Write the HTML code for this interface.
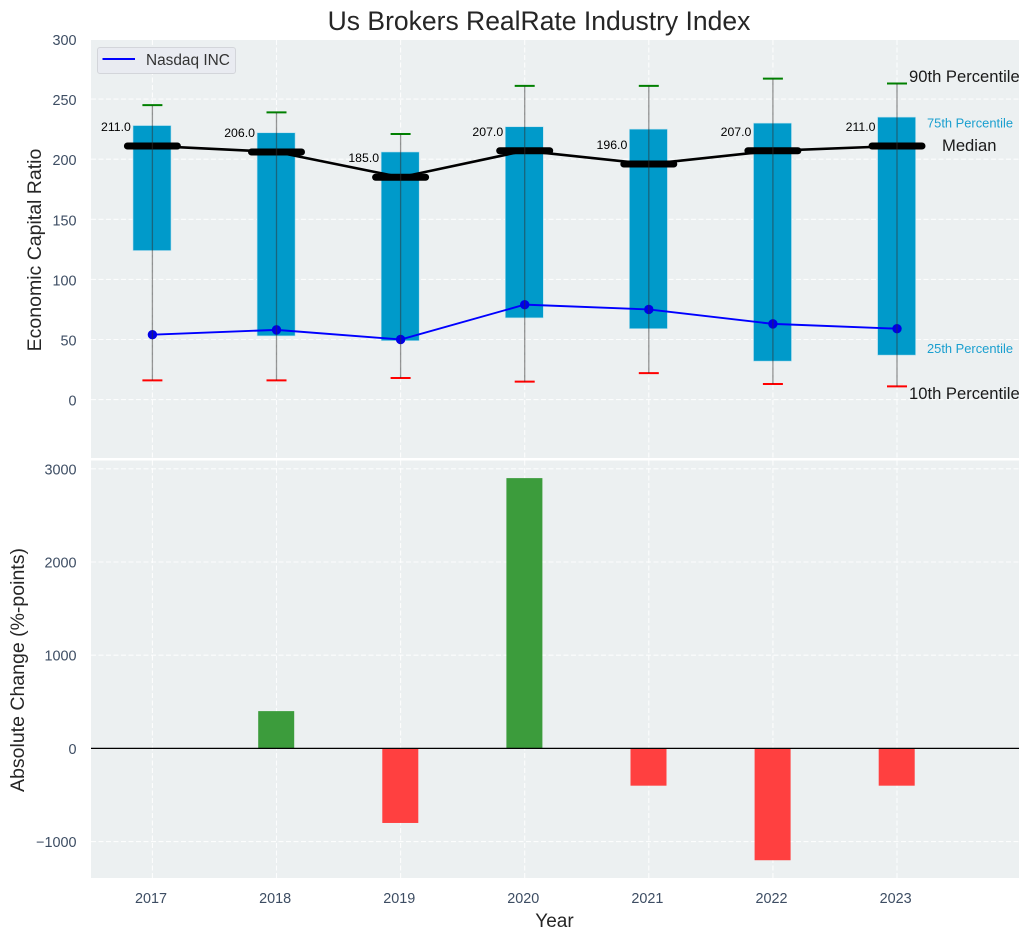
<!DOCTYPE html>
<html>
<head>
<meta charset="utf-8">
<style>
html,body{margin:0;padding:0;background:#fff;}
svg{display:block;}
text{font-family:"Liberation Sans",Arial,sans-serif;}
</style>
</head>
<body>
<svg id="chart" xmlns="http://www.w3.org/2000/svg" width="1030" height="940" viewBox="0 0 1030 940"></svg>
<script>
const years = [2017, 2018, 2019, 2020, 2021, 2022, 2023];
const p90 = [245, 239, 221, 261, 261, 267, 263];
const p75 = [228, 222, 206, 227, 225, 230, 235];
const median = [211, 206, 185, 207, 196, 207, 211];
const p25 = [124, 53, 49, 68, 59, 32, 37];
const p10 = [16, 16, 18, 15, 22, 13, 11];
const nasdaq = [54, 58, 50, 79, 75, 63, 59];
const changes = [null, 400, -800, 2900, -400, -1200, -400];
const topTicks = [0, 50, 100, 150, 200, 250, 300];
const bottomTicks = [-1000, 0, 1000, 2000, 3000];

const svg = document.getElementById('chart');
const NS = 'http://www.w3.org/2000/svg';
function mk(tag, attrs, name, text) {
  const el = document.createElementNS(NS, tag);
  for (const k in attrs) el.setAttribute(k, attrs[k]);
  
  
  if (text !== undefined) el.textContent = text;
  svg.appendChild(el);
  return el;
}
const L = 91, R = 1019;
const x = v => 152.4 + (v - 2017) * 124.1;
const yTop = v => 399.6 - v * 1.202;
const yBot = v => 748.4 - v * 0.0932;
const tickColor = '#3d4d63';
const gridColor = 'rgba(255,255,255,0.85)';
const bw = 38;

mk('text', {x: 539, y: 30, 'text-anchor': 'middle', 'font-size': 26.5, fill: '#262626'}, 'chart-title', 'Us Brokers RealRate Industry Index');

mk('rect', {x: L, y: 40, width: R - L, height: 418, fill: '#ecf0f1'}, 'top-panel-background');
mk('rect', {x: L, y: 460.5, width: R - L, height: 417.5, fill: '#ecf0f1'}, 'bottom-panel-background');

topTicks.forEach(t => {
  if (yTop(t) > 40) {
    mk('line', {x1: L, x2: R, y1: yTop(t), y2: yTop(t), stroke: gridColor, 'stroke-width': 1.1, 'stroke-dasharray': '5 2.5'}, 'top-grid-horizontal');
  }
  mk('text', {x: 76.5, y: yTop(t) + 6, 'text-anchor': 'end', 'font-size': 14.4, fill: tickColor}, 'top-y-tick-label', String(t));
});
bottomTicks.forEach(t => {
  mk('line', {x1: L, x2: R, y1: yBot(t), y2: yBot(t), stroke: gridColor, 'stroke-width': 1.1, 'stroke-dasharray': '5 2.5'}, 'bottom-grid-horizontal');
  mk('text', {x: 76.5, y: yBot(t) + 5.5, 'text-anchor': 'end', 'font-size': 14.4, fill: tickColor}, 'bottom-y-tick-label', String(t).replace('-', '\u2212'));
});
years.forEach(v => {
  mk('line', {x1: x(v), x2: x(v), y1: 40, y2: 458, stroke: gridColor, 'stroke-width': 1.1, 'stroke-dasharray': '5 2.5'}, 'top-grid-vertical');
  mk('line', {x1: x(v), x2: x(v), y1: 460.5, y2: 878, stroke: gridColor, 'stroke-width': 1.1, 'stroke-dasharray': '5 2.5'}, 'bottom-grid-vertical');
  mk('text', {x: x(v) - 1.4, y: 903, 'text-anchor': 'middle', 'font-size': 14.4, fill: tickColor}, 'x-tick-label', String(v));
});

years.forEach((v, i) => {
  mk('rect', {x: x(v) - 0.4 - bw / 2, y: yTop(p75[i]), width: bw, height: yTop(p25[i]) - yTop(p75[i]), fill: '#009aca', stroke: '#b5dfee', 'stroke-width': 0.6}, 'percentile-box-' + v);
  mk('line', {x1: x(v) - 10, x2: x(v) + 10, y1: yTop(p90[i]), y2: yTop(p90[i]), stroke: '#008000', 'stroke-width': 2}, 'p90-cap-' + v);
  mk('line', {x1: x(v) - 10, x2: x(v) + 10, y1: yTop(p10[i]), y2: yTop(p10[i]), stroke: '#ff0000', 'stroke-width': 2}, 'p10-cap-' + v);
});

mk('polyline', {points: years.map((v, i) => x(v) + ',' + yTop(median[i])).join(' '), fill: 'none', stroke: '#000', 'stroke-width': 2.6}, 'median-line');
years.forEach((v, i) => {
  mk('line', {x1: x(v) - 25, x2: x(v) + 25, y1: yTop(median[i]), y2: yTop(median[i]), stroke: '#000', 'stroke-width': 7, 'stroke-linecap': 'round'}, 'median-marker-' + v);
  mk('text', {x: x(v) - 21.5, y: yTop(median[i]) - 15, 'text-anchor': 'end', 'font-size': 12.3, fill: '#000'}, 'median-value-label-' + v, median[i].toFixed(1));
});

mk('polyline', {points: years.map((v, i) => x(v) + ',' + yTop(nasdaq[i])).join(' '), fill: 'none', stroke: '#0000ff', 'stroke-width': 1.9}, 'nasdaq-line');
years.forEach((v, i) => {
  mk('circle', {cx: x(v), cy: yTop(nasdaq[i]), r: 4.7, fill: '#0000e6'}, 'nasdaq-point-' + v);
});
years.forEach((v, i) => {
  mk('line', {x1: x(v), x2: x(v), y1: yTop(p90[i]), y2: yTop(p10[i]), stroke: '#303030', 'stroke-opacity': 0.5, 'stroke-width': 1.3}, 'whisker-' + v);
});

const last = years.length - 1;
mk('text', {x: 909, y: yTop(p90[last]) - 1.5, 'font-size': 16.6, fill: '#1a1a1a'}, 'p90-annotation', '90th Percentile');
mk('text', {x: 927, y: yTop(p75[last]) + 10.5, 'font-size': 12.9, fill: '#1a9fcf'}, 'p75-annotation', '75th Percentile');
mk('text', {x: 942, y: yTop(median[last]) + 5, 'font-size': 16.6, fill: '#1a1a1a'}, 'median-annotation', 'Median');
mk('text', {x: 927, y: yTop(p25[last]) - 2, 'font-size': 12.9, fill: '#1a9fcf'}, 'p25-annotation', '25th Percentile');
mk('text', {x: 909, y: yTop(p10[last]) + 12.5, 'font-size': 16.6, fill: '#1a1a1a'}, 'p10-annotation', '10th Percentile');

mk('rect', {x: 97.5, y: 47.5, width: 138, height: 26, rx: 2.5, fill: '#e9ebf1', stroke: '#d3d5da', 'stroke-width': 1}, 'legend-box');
mk('line', {x1: 102.5, x2: 135, y1: 59, y2: 59, stroke: '#0000ff', 'stroke-width': 1.9}, 'legend-nasdaq-swatch');
mk('text', {x: 146, y: 65, 'font-size': 15.4, fill: '#333'}, 'legend-nasdaq-label', 'Nasdaq INC');

years.forEach((v, i) => {
  const c = changes[i];
  if (c === null) return;
  const top = Math.min(yBot(c), yBot(0));
  const h = Math.abs(yBot(c) - yBot(0));
  mk('rect', {x: x(v) - 18.3, y: top, width: 36, height: h, fill: c >= 0 ? '#3c9c3c' : '#ff4040'}, 'change-bar-' + v);
});
mk('line', {x1: L, x2: R, y1: yBot(0), y2: yBot(0), stroke: '#000', 'stroke-width': 1.3}, 'zero-line');

mk('text', {transform: 'translate(41,250) rotate(-90)', 'text-anchor': 'middle', 'font-size': 19.5, fill: '#262626'}, 'top-y-axis-title', 'Economic Capital Ratio');
mk('text', {transform: 'translate(24,670) rotate(-90)', 'text-anchor': 'middle', 'font-size': 19.5, fill: '#262626'}, 'bottom-y-axis-title', 'Absolute Change (%-points)');
mk('text', {x: 554.5, y: 927, 'text-anchor': 'middle', 'font-size': 19, fill: '#262626'}, 'x-axis-title', 'Year');
</script>
</body>
</html>
